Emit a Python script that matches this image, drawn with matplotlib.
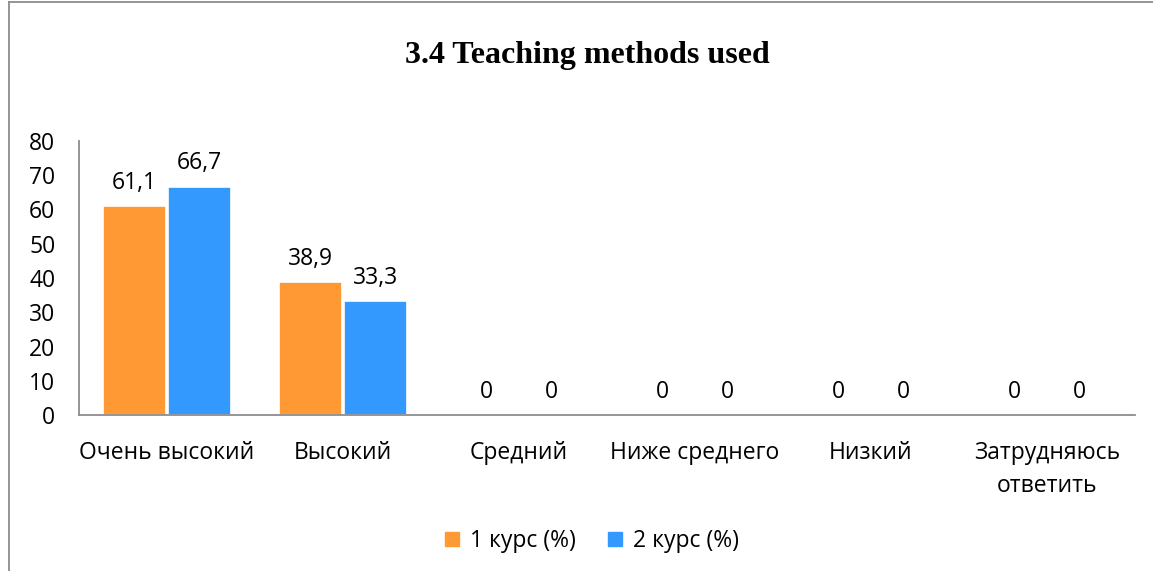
import matplotlib
matplotlib.use("Agg")
import matplotlib.pyplot as plt
import numpy as np
from matplotlib.patches import Rectangle
from matplotlib.lines import Line2D

categories = ["Очень высокий", "Высокий", "Средний", "Ниже среднего", "Низкий", "Затрудняюсь\nответить"]
series_names = ["1 курс (%)", "2 курс (%)"]
course1 = [61.1, 38.9, 0, 0, 0, 0]
course2 = [66.7, 33.3, 0, 0, 0, 0]
yticks = [0, 10, 20, 30, 40, 50, 60, 70, 80]
title = "3.4 Teaching methods used"

colors = ["#FF9933", "#3399FF"]
font = ["Open Sans", "DejaVu Sans"]
plt.rcParams['font.family'] = font
FS = 16.5

W, H = 1153, 571
fig = plt.figure(figsize=(W/100, H/100), dpi=100)
ax = fig.add_axes([79/W, 1-415/H, (1135-79)/W, (415-141)/H])

x = np.arange(len(categories))
bw = 0.355
gap = 0.006
b1 = ax.bar(x - bw/2 - gap, course1, bw, color=colors[0], edgecolor="white", linewidth=1.2, label=series_names[0])
b2 = ax.bar(x + bw/2 + gap, course2, bw, color=colors[1], edgecolor="white", linewidth=1.2, label=series_names[1])

def fmt(v):
    return f"{v:g}".replace(".", ",")

for bars, vals in ((b1, course1), (b2, course2)):
    for rect, v in zip(bars, vals):
        ax.annotate(fmt(v), (rect.get_x() + rect.get_width()/2, rect.get_height()),
                    xytext=(0, 8), textcoords="offset points", ha="center", va="bottom",
                    fontsize=FS, color="#000000")

ax.set_xlim(-0.5, len(categories) - 0.5)
ax.set_ylim(0, 80)
ax.set_yticks(yticks)
ax.set_xticks(x)
ax.set_xticklabels(categories, fontsize=FS)
ax.tick_params(axis="y", length=0, pad=17, labelsize=FS)
ax.tick_params(axis="x", length=0, pad=19)
for lab in ax.get_xticklabels():
    lab.set_linespacing(1.5)
for s in ("top", "right"):
    ax.spines[s].set_visible(False)
for s in ("left", "bottom"):
    ax.spines[s].set_color("#8c8c8c")
    ax.spines[s].set_linewidth(1.3)

fig.text(587/W, 1-55/H, title, ha="center", va="center", fontsize=23, fontweight="bold",
         family=["Liberation Serif", "DejaVu Serif"])

handles = [Rectangle((0, 0), 1, 1, color=c) for c in colors]
fig.legend(handles, series_names, loc="center", bbox_to_anchor=(592/W, 1-541/H), ncol=2,
           frameon=False, fontsize=FS, handlelength=0.6, handleheight=0.6,
           columnspacing=1.4, handletextpad=0.5)

# figure frame (left & top edges visible)
fig.add_artist(Line2D([9/W, 9/W], [0, 1-2/H], transform=fig.transFigure, color="#8c8c8c", lw=1.3))
fig.add_artist(Line2D([9/W, 1], [1-2/H, 1-2/H], transform=fig.transFigure, color="#8c8c8c", lw=1.3))

fig.savefig("out.png", dpi=100)
